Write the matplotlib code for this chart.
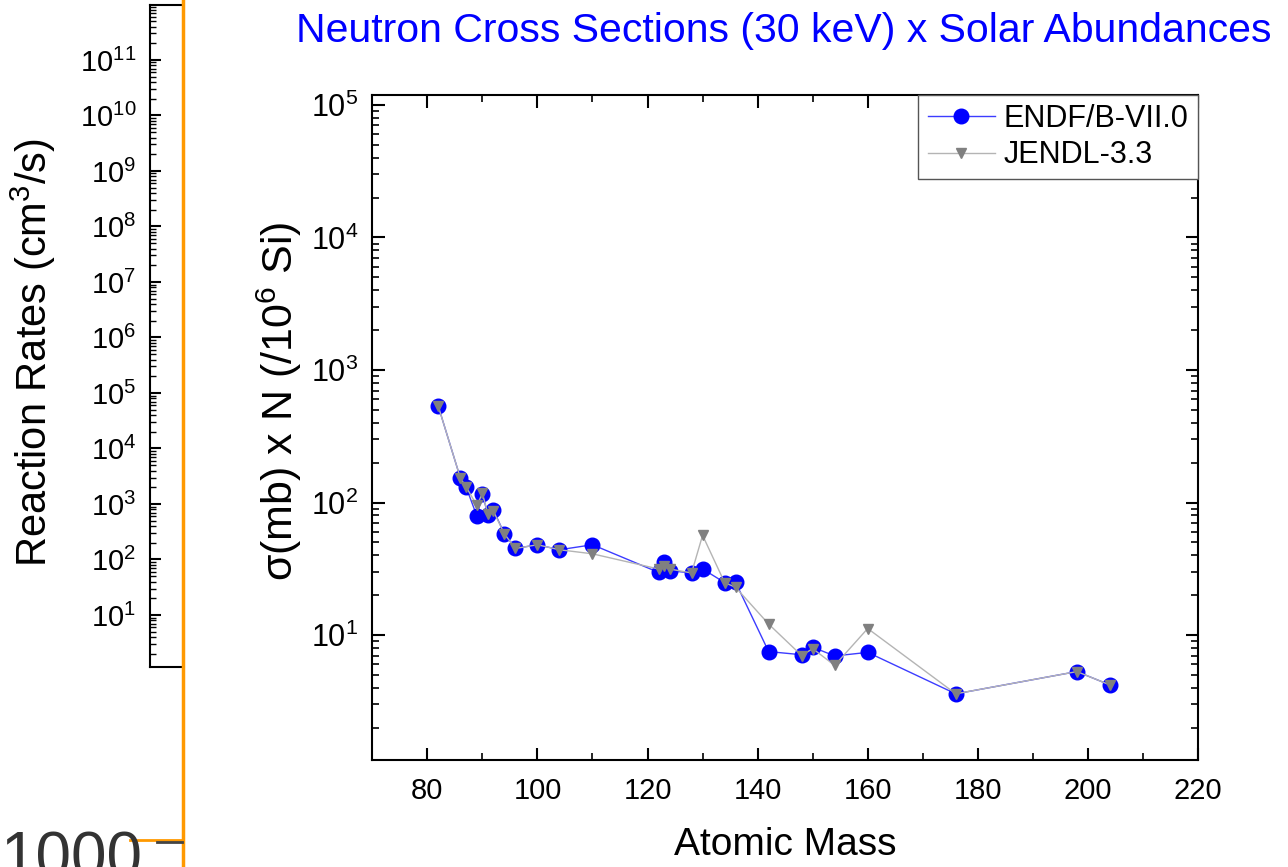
import matplotlib
matplotlib.use('Agg')
import matplotlib.pyplot as plt
from matplotlib.lines import Line2D
from matplotlib.ticker import LogLocator, MultipleLocator, NullFormatter

plt.rcParams['font.family'] = ['Liberation Sans', 'DejaVu Sans']
plt.rcParams['mathtext.fontset'] = 'custom'
plt.rcParams['mathtext.rm'] = 'Liberation Sans'
plt.rcParams['mathtext.it'] = 'Liberation Sans:italic'
plt.rcParams['mathtext.bf'] = 'Liberation Sans:bold'

# atomic masses of the isotopes
mass = [82, 86, 87, 89, 90, 91, 92, 94, 96, 100, 104, 110, 122, 123, 124, 128,
        130, 134, 136, 142, 148, 150, 154, 160, 176, 198, 204]

# sigma(mb) x N  (per 10^6 Si)
endf = [531, 153, 132, 79, 116, 81, 88, 58, 45, 48, 44, 48, 29.7, 35.5, 30.6, 29.4,
        31.5, 24.9, 25, 7.5, 7.1, 8.1, 6.95, 7.4, 3.6, 5.3, 4.2]
jendl = [531, 153, 132, 95, 117, 82, 86, 58, 45, 48, 44, 41, 31.5, 33, 31.5, 29.4,
         56.6, 24.9, 22.9, 12.1, 7.0, 7.9, 5.9, 11.2, 3.6, 5.3, 4.2]

xticks = [80, 100, 120, 140, 160, 180, 200, 220]

W, H = 1288, 867
fig = plt.figure(figsize=(W/100, H/100), dpi=100)

# cut off panel on the left
ax2 = fig.add_axes([150/W, 1-667/H, 33/W, (667-5)/H])
ax2.set_yscale('log')
ax2.set_ylim(10**0.063, 10**11.99)
ax2.set_xticks([])
ax2.spines['right'].set_visible(False)
for s in ['left', 'top', 'bottom']:
    ax2.spines[s].set_linewidth(1.5)
ax2.yaxis.set_major_locator(LogLocator(base=10, numticks=30))
ax2.yaxis.set_minor_locator(LogLocator(base=10, subs=range(2, 10), numticks=30))
ax2.yaxis.set_minor_formatter(NullFormatter())
ax2.tick_params(axis='y', which='major', direction='in', length=8, width=1.5,
                labelsize=21, pad=10)
ax2.tick_params(axis='y', which='minor', direction='in', length=4, width=1)
ax2.set_ylabel('Reaction Rates (cm$^3$/s)', fontsize=30)
ax2.yaxis.set_label_coords(-2.8, 0.475)

# orange frame and bits of the slide
fig.add_artist(Line2D([182.5/W, 182.5/W], [0, 1], transform=fig.transFigure,
                      color='#ff9900', lw=2.5))
fig.add_artist(Line2D([130/W, 182.5/W], [1-840/H, 1-840/H], transform=fig.transFigure,
                      color='#ff9900', lw=2))
fig.add_artist(Line2D([157/W, 182/W], [1-842/H, 1-842/H], transform=fig.transFigure,
                      color='#444444', lw=2))
fig.text(0/W, 1-830/H, '1000', fontsize=46, color='#333333', ha='left', va='top')

# main plot
ax = fig.add_axes([372.3/W, 1-760/H, (1198-372.3)/W, (760-95)/H])
ax.plot(mass, endf, color='#3c3cff', lw=1, marker='o', ms=10.5, mfc='blue', mec='blue',
        label='ENDF/B-VII.0')
ax.plot(mass, jendl, color='#b4b4b4', lw=1, marker='v', ms=7, mfc='#808080', mec='#808080',
        label='JENDL-3.3')
ax.set_yscale('log')
ax.set_xlim(70, 220)
ax.set_ylim(10**0.057, 10**5.075)
ax.set_xticks(xticks)
ax.xaxis.set_minor_locator(MultipleLocator(10))
ax.yaxis.set_major_locator(LogLocator(base=10, numticks=20))
ax.yaxis.set_minor_locator(LogLocator(base=10, subs=range(2, 10), numticks=20))
ax.yaxis.set_minor_formatter(NullFormatter())
ax.tick_params(which='both', direction='in', top=True, right=True, width=1.5)
ax.tick_params(which='major', length=9, labelsize=21, pad=12)
ax.tick_params(axis='y', which='major', labelsize=22, pad=10)
ax.tick_params(which='minor', length=5, width=1.2)
for s in ax.spines.values():
    s.set_linewidth(1.5)
ax.set_xlabel('Atomic Mass', fontsize=28, labelpad=16)
ax.set_ylabel('σ(mb) x N (/10$^6$ Si)', fontsize=31)
ax.yaxis.set_label_coords(-0.083, 0.54)
ax.set_title('Neutron Cross Sections (30 keV) x Solar Abundances', fontsize=29.5,
             color='blue', pad=38, x=0.498)

leg = ax.legend(loc='upper right', bbox_to_anchor=(1, 1), borderaxespad=0, fontsize=22,
                handlelength=2.2, handletextpad=0.3, labelspacing=0.2, fancybox=False,
                framealpha=1, edgecolor='#555555', borderpad=0.3)
leg.get_frame().set_linewidth(1)

plt.savefig('out.png', dpi=100)
